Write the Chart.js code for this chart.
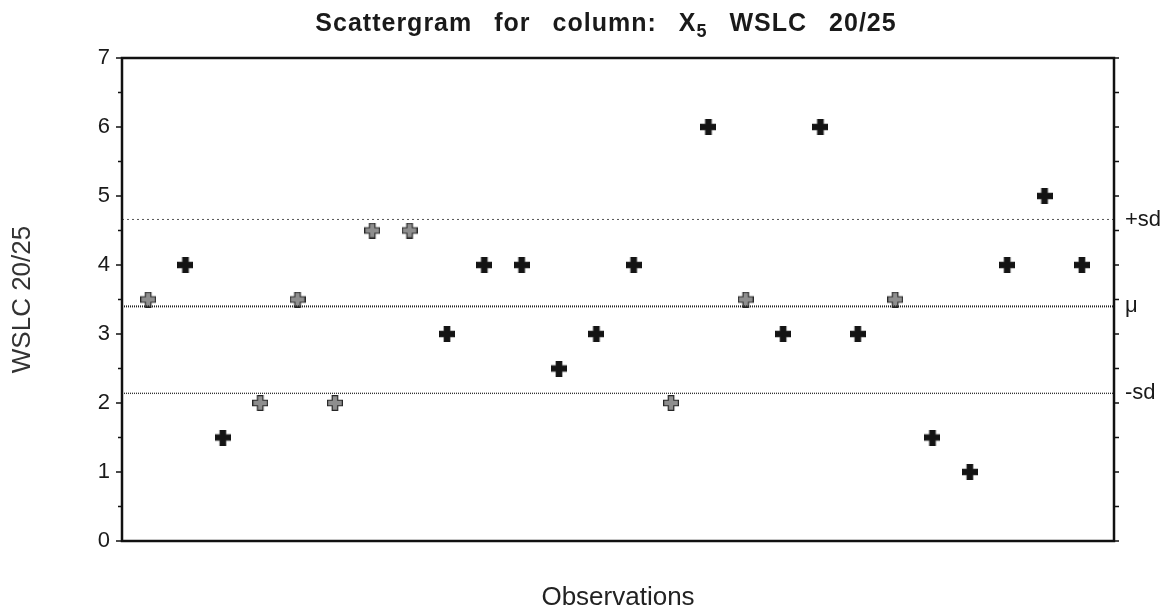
<!DOCTYPE html>
<html>
<head>
<meta charset="utf-8">
<script src="https://cdn.jsdelivr.net/npm/chart.js@4.4.1/dist/chart.umd.min.js"></script>
<style>
  html, body { margin: 0; padding: 0; background: #fff; }
  #wrap { width: 1173px; height: 615px; }
</style>
</head>
<body>
<div id="wrap"><canvas id="chart" width="1173" height="615"></canvas></div>
<script>
// observations 1..26 and their WSLC 20/25 values
const observations = [1,2,3,4,5,6,7,8,9,10,11,12,13,14,15,16,17,18,19,20,21,22,23,24,25,26];
const values = [3.5,4,1.5,2,3.5,2,4.5,4.5,3,4,4,2.5,3,4,2,6,3.5,3,6,3,3.5,1.5,1,4,5,4];
// observations printed as hollow crosses in the original
const hollowObs = [1,4,5,6,7,8,15,17,21];

const mean = 3.40;
const sd = 1.26;
const sdLabels = ['+sd', 'μ', '-sd'];

const X_MIN = 0.3, X_MAX = 26.86;
const FONT = '"Liberation Sans", Arial, Helvetica, sans-serif';

function plusMarker(fill, stroke) {
  const s = 16, a = 5.5, c = document.createElement('canvas');
  c.width = s; c.height = s;
  const g = c.getContext('2d');
  const o = (s - a) / 2;
  g.beginPath();
  g.moveTo(o, 0.6); g.lineTo(o + a, 0.6); g.lineTo(o + a, o); g.lineTo(s - 0.6, o);
  g.lineTo(s - 0.6, o + a); g.lineTo(o + a, o + a); g.lineTo(o + a, s - 0.6); g.lineTo(o, s - 0.6);
  g.lineTo(o, o + a); g.lineTo(0.6, o + a); g.lineTo(0.6, o); g.lineTo(o, o);
  g.closePath();
  g.fillStyle = fill; g.fill();
  g.lineWidth = 1.2; g.strokeStyle = stroke; g.stroke();
  return c;
}
const solidMark = plusMarker('#141414', '#141414');
const hollowMark = plusMarker('#8e8e8e', '#262626');

const solidPts = [], hollowPts = [];
observations.forEach((o, i) => {
  (hollowObs.includes(o) ? hollowPts : solidPts).push({ x: o, y: values[i] });
});

const hline = (y) => [{ x: X_MIN, y: y }, { x: X_MAX, y: y }];

// frame, axis ticks and title
const decor = {
  id: 'decor',
  afterDraw(chart) {
    const { ctx, chartArea: a, scales } = chart;
    const y = scales.y;
    ctx.save();
    ctx.strokeStyle = '#111';
    ctx.lineWidth = 2.5;
    ctx.strokeRect(a.left, a.top, a.right - a.left, a.bottom - a.top);
    ctx.lineWidth = 1.6;
    for (let v = 0; v <= 7.001; v += 0.5) {
      const py = y.getPixelForValue(v);
      const major = Math.abs(v - Math.round(v)) < 0.01;
      ctx.beginPath();
      ctx.moveTo(a.left, py); ctx.lineTo(a.left - (major ? 6 : 4), py);
      ctx.moveTo(a.right, py); ctx.lineTo(a.right + 5, py);
      ctx.stroke();
    }

    // title: words set apart, subscript 5 on the X
    ctx.fillStyle = '#1a1a1a';
    ctx.textBaseline = 'alphabetic';
    ctx.textAlign = 'left';
    if ('letterSpacing' in ctx) ctx.letterSpacing = '1px';
    const big = 'bold 25px ' + FONT, small = 'bold 18px ' + FONT;
    const words = [['Scattergram'], ['for'], ['column:'], ['X', '5'], ['WSLC'], ['20/25']];
    const gap = 22;
    const widthOf = (w) => {
      ctx.font = big; let wd = ctx.measureText(w[0]).width;
      if (w[1]) { ctx.font = small; wd += ctx.measureText(w[1]).width; }
      return wd;
    };
    const total = words.reduce((s, w) => s + widthOf(w), 0) + gap * (words.length - 1);
    let x = 606 - total / 2;
    const base = 31;
    words.forEach(w => {
      ctx.font = big; ctx.fillText(w[0], x, base);
      let wd = ctx.measureText(w[0]).width;
      if (w[1]) { ctx.font = small; ctx.fillText(w[1], x + wd, base + 6); wd += ctx.measureText(w[1]).width; }
      x += wd + gap;
    });
    ctx.restore();
  }
};

new Chart(document.getElementById('chart'), {
  type: 'scatter',
  data: {
    datasets: [
      { type: 'line', data: hline(mean + sd), borderColor: '#555', borderWidth: 1, borderDash: [2, 3], pointRadius: 0 },
      { type: 'line', data: hline(mean), borderColor: '#222', borderWidth: 2, borderDash: [1, 1], pointRadius: 0 },
      { type: 'line', data: hline(mean - sd), borderColor: '#333', borderWidth: 1.4, borderDash: [1, 1], pointRadius: 0 },
      { data: solidPts, pointStyle: solidMark },
      { data: hollowPts, pointStyle: hollowMark }
    ]
  },
  options: {
    responsive: false,
    animation: false,
    layout: { padding: { top: 58, left: 0, right: 0, bottom: 0 } },
    plugins: { legend: { display: false }, tooltip: { enabled: false }, title: { display: false } },
    scales: {
      x: {
        type: 'linear', min: X_MIN, max: X_MAX,
        grid: { display: false, drawTicks: false },
        border: { display: false },
        ticks: { display: false },
        title: { display: true, text: 'Observations', color: '#222', font: { family: FONT, size: 26 }, padding: { top: 0, bottom: 2 } },
        afterFit(s) { s.height = 74; }
      },
      y: {
        min: 0, max: 7,
        grid: { display: false, drawTicks: false },
        border: { display: false },
        ticks: { stepSize: 1, padding: 12, color: '#1a1a1a', font: { family: FONT, size: 22 } },
        title: { display: true, text: 'WSLC 20/25', color: '#333', font: { family: FONT, size: 26 }, padding: { top: 7, bottom: 0 } },
        afterFit(s) { s.width = 122; }
      },
      y2: {
        position: 'right', min: 0, max: 7,
        grid: { display: false, drawTicks: false },
        border: { display: false },
        afterBuildTicks(s) { s.ticks = [mean + sd, mean, mean - sd].map(v => ({ value: v })); },
        ticks: {
          padding: 11, color: '#1a1a1a', font: { family: FONT, size: 22 },
          callback: (v, i) => sdLabels[i]
        },
        afterFit(s) { s.width = 1173 - 1114; }
      }
    }
  },
  plugins: [decor]
});
</script>
</body>
</html>
